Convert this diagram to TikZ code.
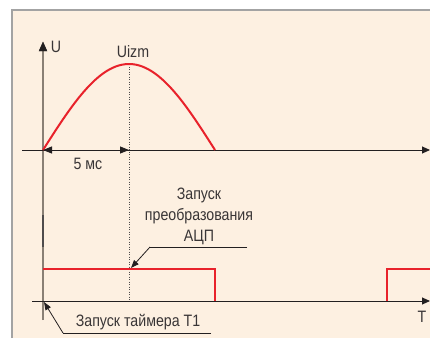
\documentclass[tikz,border=0pt]{standalone}
\usepackage{fontspec}
\setmainfont{Liberation Sans}[FakeStretch=0.86]
\usetikzlibrary{arrows.meta}
\definecolor{bgc}{HTML}{FDF0E1}
\definecolor{frame}{HTML}{A3A3A3}
\definecolor{axisg}{HTML}{8A8075}
\definecolor{ink}{HTML}{231F20}
\definecolor{sig}{HTML}{E8222B}
\tikzset{
  axis/.style={draw=ink, line width=0.9pt, -{Triangle[length=8pt,width=7pt]}},
  lbl/.style={font=\fontsize{16.5}{21}\selectfont, text=ink!90, inner sep=0pt},
  signal/.style={draw=sig, line width=2pt},
  leader/.style={draw=ink, line width=0.8pt},
  tip/.style={-{Triangle[length=8pt,width=6pt]}}
}
\begin{document}
\begin{tikzpicture}[x=1pt,y=-1pt]
\useasboundingbox (0,0) rectangle (430,338);
\fill[white] (0,0) rectangle (430,338);
\fill[bgc] (12,10) rectangle (430,338);
\draw[frame, line width=2.2pt] (12,338) -- (12,10) -- (430,10);
% coordinates
\coordinate (o1) at (43,150);
\coordinate (peak) at (129,64);
\coordinate (z1) at (215,150);
\coordinate (yb) at (43,320);
\coordinate (yt) at (43,42);
\coordinate (h1s) at (22,150);
\coordinate (h1e) at (430,150);
\coordinate (h2s) at (32,301);
\coordinate (h2e) at (430,301);
\coordinate (dl) at (129,301);
% vertical axis
\draw[axisg, line width=1.3pt] (yb) -- (43,50);
\draw[draw=ink, fill=ink] (43,42) -- (39,51) -- (47,51) -- cycle;
\draw[ink!80, line width=1.6pt] (43,215) -- (43,247);
% horizontal axes
\draw[axis] (h1s) -- (h1e);
\draw[axis] (h2s) -- (h2e);
% dotted line
\draw[ink!80, line width=0.5pt, dotted] (peak) -- (dl);
% sine
\draw[signal, domain=0:180, samples=60, smooth] plot ({43+0.95556*\x},{150-86*sin(\x)});
% 5 ms dimension
\draw[draw=ink, line width=0.9pt, {Triangle[length=9pt,width=7pt]}-{Triangle[length=9pt,width=7pt]}] (o1) -- (129,150);
\node[lbl] (ms) at (88,164) {5 мс};
% labels
\node[lbl] (U) at (56,47) {U};
\node[lbl] (uizm) at (133,52) {Uizm};
\node[lbl] (T) at (422,317) {T};
% pulses
\draw[signal] (43,269) -- (215,269) -- (215,301);
\draw[signal] (387,301) -- (387,269) -- (430,269);
% annotation ADC
\node[lbl, align=center] (adc) at (199,216) {Запуск\\преобразования\\АЦП};
\coordinate (a1) at (247,247);
\coordinate (a2) at (150,247);
\coordinate (a3) at (131,268);
\draw[leader] (a1) -- (a2);
\draw[leader, tip] (a2) -- (a3);
% annotation timer
\node[lbl] (tmr) at (138,322) {Запуск таймера Т1};
\coordinate (b1) at (211,333);
\coordinate (b2) at (63,333);
\coordinate (b3) at (44,302);
\draw[leader] (b1) -- (b2);
\draw[leader, tip] (b2) -- (b3);
\end{tikzpicture}
\end{document}
